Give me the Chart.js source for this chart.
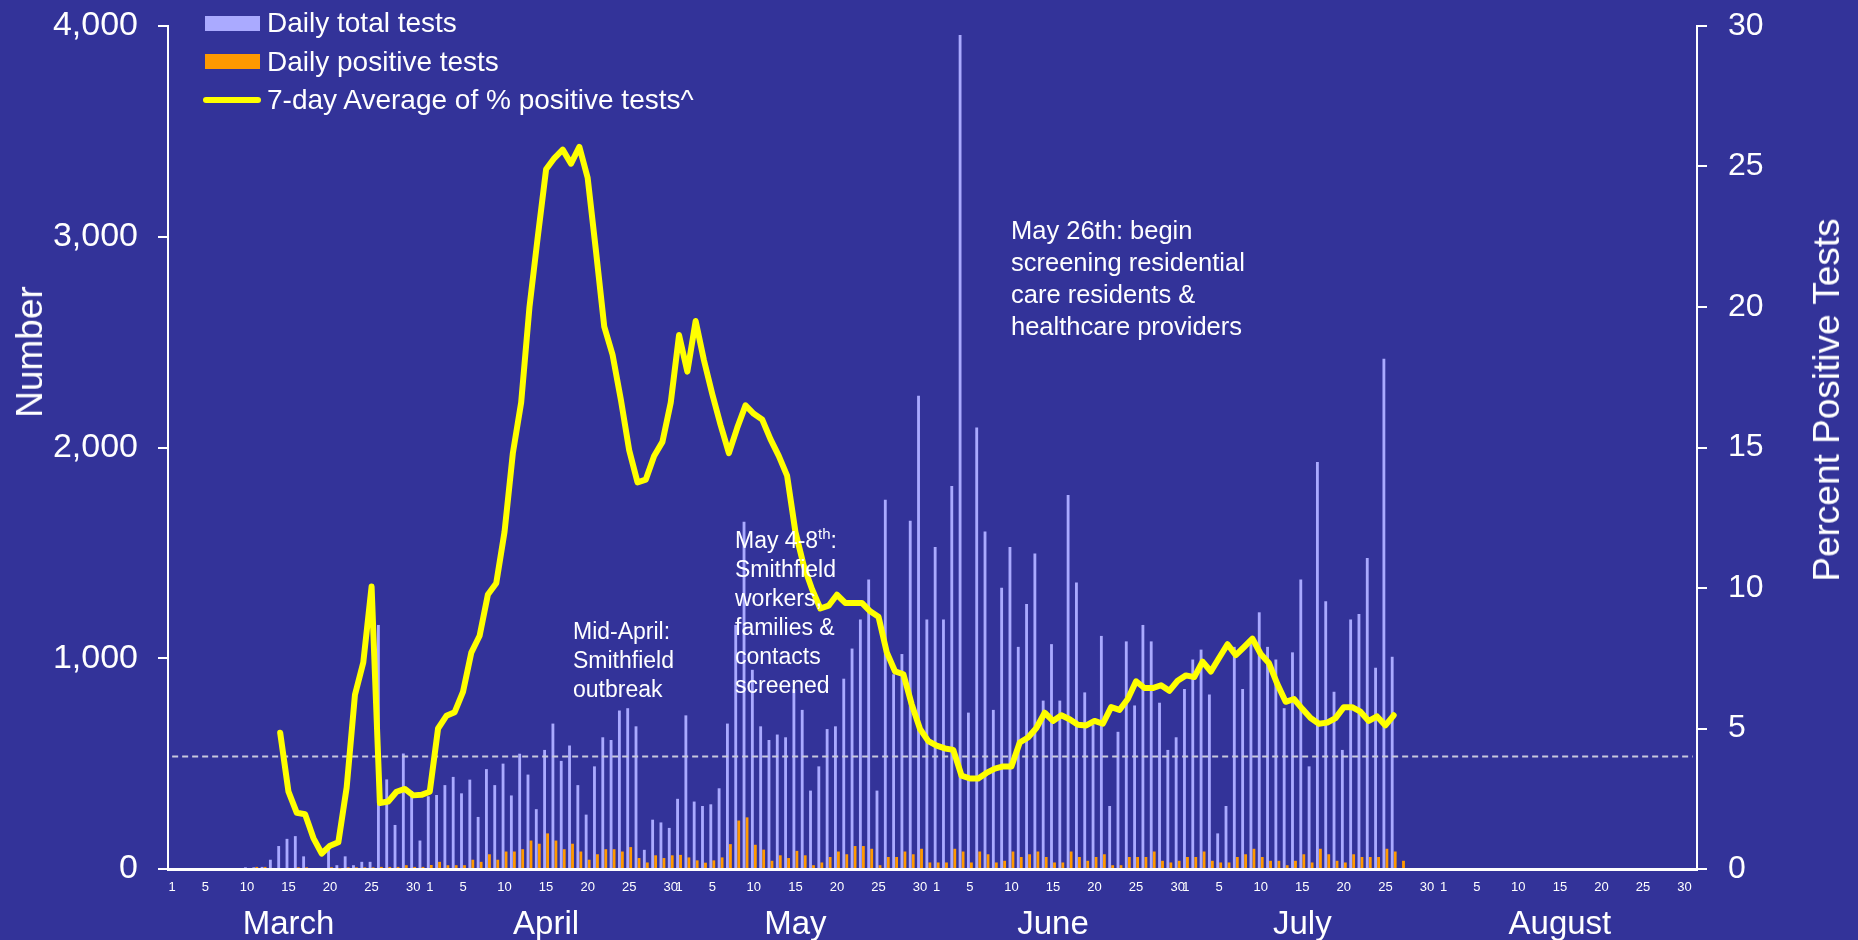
<!DOCTYPE html>
<html>
<head>
<meta charset="utf-8">
<title>Daily tests and percent positive</title>
<script src="https://cdn.jsdelivr.net/npm/chart.js@4.4.1/dist/chart.umd.min.js"></script>
<style>
  html, body { margin: 0; padding: 0; background: #333399; }
  #wrap {
    position: relative; width: 1858px; height: 940px; overflow: hidden;
    font-family: 'Liberation Sans', Arial, sans-serif; color: #fff;
  }
  #chart { position: absolute; left: 0; top: 0; }
  .note { position: absolute; white-space: nowrap; }
  .note sup { font-size: 15px; line-height: 0; vertical-align: 0; position: relative; top: -9px; }
  .axis-title {
    position: absolute; white-space: nowrap; font-size: 37px;
    transform: translate(-50%, -50%) rotate(-90deg);
  }
  #legend { position: absolute; left: 203px; top: 4px; font-size: 28px; }
  #legend .row { display: flex; align-items: center; height: 38.5px; }
  #legend .swatch { flex: none; }
  #legend .text { margin-left: 6px; white-space: nowrap; }
</style>
</head>
<body>
<div id="wrap">
  <canvas id="chart" width="1858" height="940"></canvas>
  <div id="legend"></div>
  <div class="axis-title" style="left:30px; top:352px;">Number</div>
  <div class="axis-title" style="left:1827px; top:400px;">Percent Positive Tests</div>
  <div class="note" style="left:573px; top:617px; font-size:23px; line-height:29px;">Mid-April:<br>Smithfield<br>outbreak</div>
  <div class="note" style="left:735px; top:526px; font-size:23px; line-height:29px;">May 4-8<sup>th</sup>:<br>Smithfield<br>workers,<br>families &amp;<br>contacts<br>screened</div>
  <div class="note" style="left:1011px; top:214px; font-size:25.5px; line-height:32px;">May 26th: begin<br>screening residential<br>care residents &amp;<br>healthcare providers</div>
</div>
<script>
(function () {
    'use strict';

    // calendar (one category per day, March 1 - August 31)
    var monthNames   = ['March', 'April', 'May', 'June', 'July', 'August'];
    var monthLengths = [31, 30, 31, 30, 31, 31];
    var dayTicks     = [1, 5, 10, 15, 20, 25, 30];
    var monthLabelDay = 15;

    // daily total tests, per month (null = no bar)
    var totalsMar = [null, null, null, null, null, null, null, null, null,
        8, 8, 10, 44, 109, 143, 156, 60, 0, 0, 90, 18, 60, 18, 34, 34, 1158, 425, 209, 548, 370, 135];
    var totalsApr = [345, 351, 398, 437, 359, 424, 247, 474, 398, 500, 349, 547, 448, 284, 565,
        690, 513, 586, 398, 258, 487, 625, 612, 752, 763, 677, 91, 234, 221, 195];
    var totalsMay = [333, 729, 320, 299, 307, 383, 690, 1158, 1648, 945, 677, 612, 638, 625, 854,
        755, 372, 487, 664, 677, 903, 1046, 1184, 1374, 372, 1752, 924, 1020, 1653, 2246, 1184];
    var totalsJun = [1528, 1184, 1817, 3957, 742, 2095, 1601, 755, 1335, 1528, 1054, 1257, 1497, 799, 1067,
        799, 1775, 1359, 838, 685, 1106, 299, 651, 1080, 776, 1158, 1080, 789, 565, 625];
    var totalsJul = [854, 994, 1041, 828, 169, 299, 1054, 854, 1067, 1218, 1054, 994, 763, 1028, 1374,
        487, 1931, 1270, 841, 565, 1184, 1210, 1476, 955, 2421, 1007];

    // daily positive tests, per month
    var positivesMar = [null, null, null, null, null, null, null, null, null,
        0, 10, 10, 5, 0, 0, 8, 8, 0, 0, 8, 3, 8, 8, 8, 8, 10, 10, 10, 18, 10, 10];
    var positivesApr = [19, 34, 18, 18, 18, 44, 34, 70, 44, 83, 83, 94, 135, 120, 169,
        135, 94, 120, 83, 44, 70, 94, 94, 83, 104, 52, 31, 65, 52, 65];
    var positivesMay = [67, 55, 41, 30, 41, 55, 118, 230, 245, 115, 92, 39, 65, 52, 86,
        65, 18, 31, 57, 83, 70, 109, 109, 96, 18, 57, 57, 83, 70, 96, 31];
    var positivesJun = [31, 31, 96, 83, 31, 83, 70, 31, 39, 83, 57, 70, 83, 57, 31,
        31, 83, 57, 39, 57, 70, 18, 18, 57, 57, 57, 83, 39, 31, 39];
    var positivesJul = [57, 57, 83, 39, 31, 31, 57, 70, 96, 57, 39, 39, 18, 39, 70,
        31, 96, 70, 39, 31, 70, 57, 57, 57, 96, 83, 39];

    // 7-day average of % positive tests, per month
    var pctAvgMar = [null, null, null, null, null, null, null, null, null, null, null, null, null,
        4.85, 2.75, 2.0, 1.95, 1.1, 0.55, 0.83, 0.95, 2.9, 6.2, 7.35, 10.05, 2.35, 2.4, 2.75, 2.85, 2.62, 2.64];
    var pctAvgApr = [2.75, 5.0, 5.45, 5.58, 6.3, 7.7, 8.3, 9.77, 10.17, 12.0, 14.8, 16.6, 20.0, 22.5, 24.9,
        25.3, 25.6, 25.1, 25.7, 24.6, 22.0, 19.3, 18.3, 16.7, 14.9, 13.76, 13.86, 14.7, 15.2, 16.6];
    var pctAvgMay = [19.0, 17.7, 19.5, 18.1, 16.9, 15.8, 14.8, 15.7, 16.5, 16.2, 16.0, 15.3, 14.7, 14.0, 12.0,
        10.8, 9.96, 9.27, 9.37, 9.76, 9.47, 9.47, 9.47, 9.17, 8.98, 7.71, 7.03, 6.93, 5.86, 4.98, 4.55];
    var pctAvgJun = [4.39, 4.29, 4.24, 3.32, 3.22, 3.22, 3.42, 3.57, 3.65, 3.65, 4.5, 4.68, 5.02, 5.56, 5.27,
        5.47, 5.33, 5.13, 5.11, 5.27, 5.17, 5.76, 5.66, 6.05, 6.68, 6.44, 6.44, 6.54, 6.34, 6.70];
    var pctAvgJul = [6.89, 6.83, 7.38, 7.03, 7.52, 8.0, 7.61, 7.9, 8.2, 7.65, 7.32, 6.58, 5.95, 6.05, 5.70,
        5.37, 5.17, 5.21, 5.37, 5.76, 5.76, 5.60, 5.27, 5.43, 5.11, 5.47];

    var thresholdPct = 4;

    var dateLabels = [], dayOfMonth = [], monthOfDay = [];
    monthNames.forEach(function (name, mi) {
        for (var d = 1; d <= monthLengths[mi]; d++) {
            dateLabels.push(name + ' ' + d);
            dayOfMonth.push(d);
            monthOfDay.push(name);
        }
    });

    var totalTests    = [].concat(totalsMar, totalsApr, totalsMay, totalsJun, totalsJul);
    var positiveTests = [].concat(positivesMar, positivesApr, positivesMay, positivesJun, positivesJul);
    var pctAvg        = [].concat(pctAvgMar, pctAvgApr, pctAvgMay, pctAvgJun, pctAvgJul);

    var white = '#ffffff';
    Chart.defaults.font.family = "'Liberation Sans', Arial, sans-serif";
    Chart.defaults.color = white;

    var pctSet = {
        type: 'line',
        label: '7-day Average of % positive tests^',
        data: pctAvg,
        yAxisID: 'yPct',
        borderColor: '#ffff00',
        backgroundColor: '#ffff00',
        borderWidth: 6,
        borderJoinStyle: 'round',
        borderCapStyle: 'round',
        pointRadius: 0,
        tension: 0,
        order: 0
    };
    var totalSet = {
        type: 'bar',
        label: 'Daily total tests',
        data: totalTests,
        yAxisID: 'y',
        backgroundColor: '#aaaaff',
        borderWidth: 0,
        categoryPercentage: 0.72,
        barPercentage: 0.95,
        order: 1
    };
    var positiveSet = {
        type: 'bar',
        label: 'Daily positive tests',
        data: positiveTests,
        yAxisID: 'y',
        backgroundColor: '#ff9900',
        borderWidth: 0,
        categoryPercentage: 0.72,
        barPercentage: 0.95,
        order: 2
    };

    // dashed reference line at 4 %, drawn just before the yellow line
    var thresholdLine = {
        id: 'thresholdLine',
        beforeDatasetDraw: function (chart, args) {
            if (args.meta.type !== 'line') return;
            var ctx = chart.ctx,
                xs = chart.scales.x,
                py = chart.scales.yPct.getPixelForValue(thresholdPct);
            ctx.save();
            ctx.setLineDash([6, 4]);
            ctx.strokeStyle = '#c9c9dd';
            ctx.lineWidth = 2;
            ctx.beginPath();
            ctx.moveTo(xs.getPixelForValue(0), py);
            ctx.lineTo(xs.getPixelForValue(dateLabels.length - 1), py);
            ctx.stroke();
            ctx.restore();
        }
    };

    // y axes: fixed width, and no extra room above the top label
    function fitY(width) {
        return function (s) {
            s.width = width;
            s.paddingTop = 0;
            s.paddingBottom = 0;
        };
    }

    var chart = new Chart(document.getElementById('chart').getContext('2d'), {
        type: 'bar',
        data: {
            labels: dateLabels,
            datasets: [pctSet, totalSet, positiveSet]
        },
        plugins: [thresholdLine],
        options: {
            responsive: false,
            devicePixelRatio: 1,
            animation: false,
            events: [],
            layout: { padding: { top: 26, left: 0, right: 0, bottom: 0 } },
            plugins: {
                legend: { display: false },
                tooltip: { enabled: false }
            },
            scales: {
                x: {
                    type: 'category',
                    position: 'bottom',
                    offset: true,
                    weight: 0,
                    grid: { display: false, drawTicks: false, offset: true },
                    border: { display: true, color: white, width: 3 },
                    ticks: {
                        autoSkip: false,
                        maxRotation: 0,
                        minRotation: 0,
                        padding: 11,
                        font: { size: 13 },
                        color: white,
                        callback: function (v, i) {
                            return dayTicks.indexOf(dayOfMonth[i]) >= 0 ? String(dayOfMonth[i]) : '';
                        }
                    },
                    afterFit: function (s) { s.height = 30; }
                },
                xMonth: {
                    type: 'category',
                    axis: 'x',
                    position: 'bottom',
                    offset: true,
                    weight: 1,
                    grid: { display: false, drawTicks: false, offset: true },
                    border: { display: false },
                    ticks: {
                        autoSkip: false,
                        maxRotation: 0,
                        minRotation: 0,
                        padding: 6,
                        font: { size: 33 },
                        color: white,
                        callback: function (v, i) {
                            return dayOfMonth[i] === monthLabelDay ? monthOfDay[i] : '';
                        }
                    },
                    afterFit: function (s) { s.height = 41; }
                },
                y: {
                    type: 'linear',
                    position: 'left',
                    min: 0,
                    max: 4000,
                    grid: { display: true, drawOnChartArea: false, drawTicks: true, tickLength: 10, color: white, lineWidth: 2 },
                    border: { display: true, color: white, width: 2 },
                    ticks: {
                        stepSize: 1000,
                        padding: 20,
                        font: { size: 34 },
                        color: white,
                        callback: function (v) { return v.toLocaleString('en-US'); }
                    },
                    afterFit: fitY(168)
                },
                yPct: {
                    type: 'linear',
                    position: 'right',
                    min: 0,
                    max: 30,
                    grid: { display: true, drawOnChartArea: false, drawTicks: true, tickLength: 10, color: white, lineWidth: 2 },
                    border: { display: true, color: white, width: 2 },
                    ticks: {
                        stepSize: 5,
                        padding: 21,
                        font: { size: 32 },
                        color: white
                    },
                    afterFit: fitY(161)
                }
            }
        }
    });

    // legend in the top-left corner of the plot
    var legend = document.getElementById('legend');
    [totalSet, positiveSet, pctSet].forEach(function (ds) {
        var row = document.createElement('div');
        row.className = 'row';
        var sw = document.createElement('div');
        sw.className = 'swatch';
        if (ds.type === 'line') {
            sw.style.cssText = 'width:58px;height:6px;border-radius:3px;background:' + ds.borderColor + ';';
        } else {
            sw.style.cssText = 'width:55px;height:15px;margin-left:2px;margin-right:1px;background:' + ds.backgroundColor + ';';
        }
        var tx = document.createElement('span');
        tx.className = 'text';
        tx.textContent = ds.label;
        row.appendChild(sw);
        row.appendChild(tx);
        legend.appendChild(row);
    });
})();
</script>
</body>
</html>
